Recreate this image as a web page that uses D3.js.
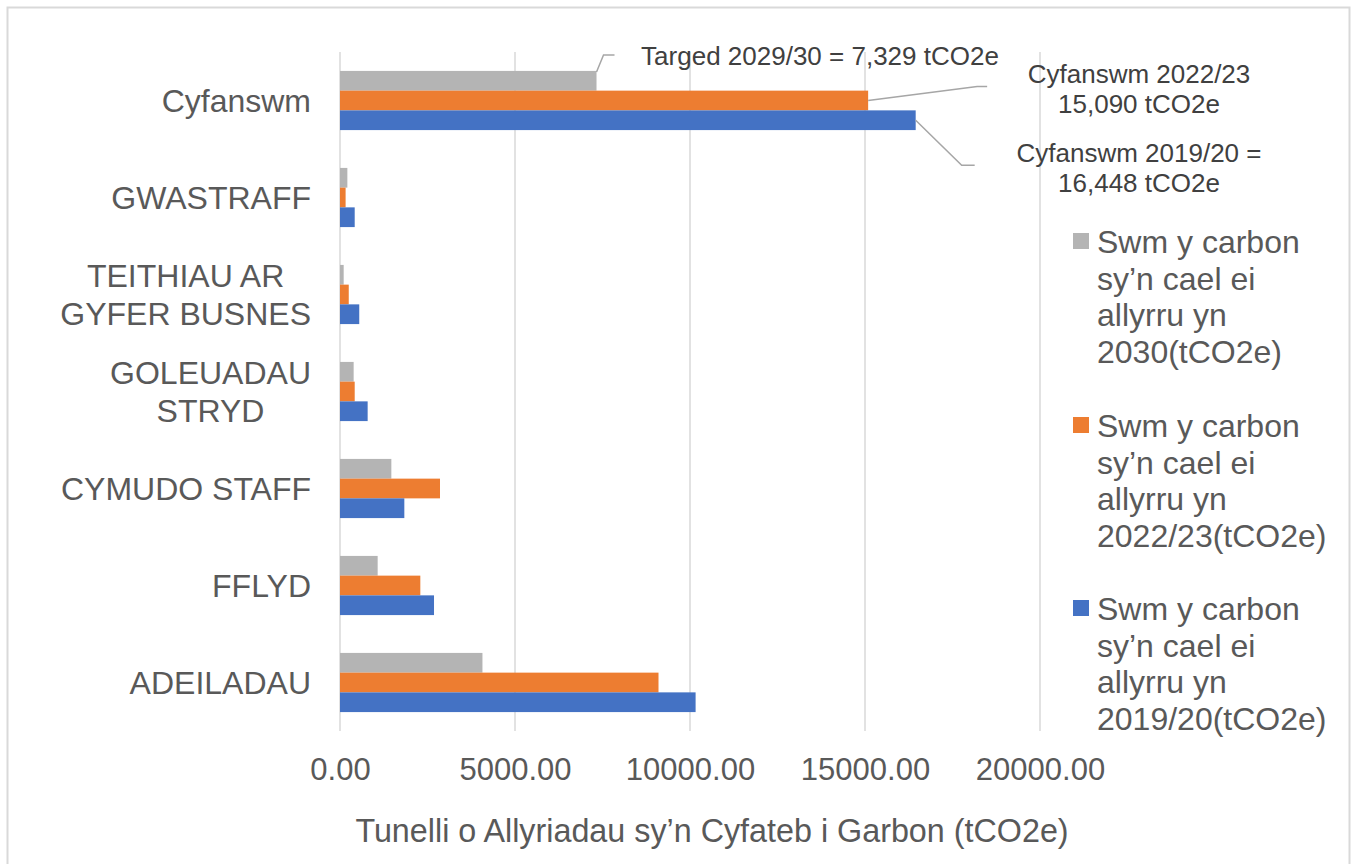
<!DOCTYPE html>
<html>
<head>
<meta charset="utf-8">
<script src="https://cdn.jsdelivr.net/npm/d3@7"></script>
<style>
  body { margin: 0; background: #fff; }
  text { font-family: "Liberation Sans", Arial, sans-serif; }
</style>
</head>
<body>
<div id="chart"></div>
<script>
// categories top to bottom
var categories = ["Cyfanswm", "GWASTRAFF", "TEITHIAU AR GYFER BUSNES", "GOLEUADAU STRYD", "CYMUDO STAFF", "FFLYD", "ADEILADAU"];
var categoryLines = [["Cyfanswm"], ["GWASTRAFF"], ["TEITHIAU AR", "GYFER BUSNES"], ["GOLEUADAU", "STRYD"], ["CYMUDO STAFF"], ["FFLYD"], ["ADEILADAU"]];

var series = ["2030", "2022/23", "2019/20"];
var seriesColours = ["#b4b4b4", "#ed7d31", "#4472c4"];
var legendLines = [
  ["Swm y carbon", "sy\u2019n cael ei", "allyrru yn", "2030(tCO2e)"],
  ["Swm y carbon", "sy\u2019n cael ei", "allyrru yn", "2022/23(tCO2e)"],
  ["Swm y carbon", "sy\u2019n cael ei", "allyrru yn", "2019/20(tCO2e)"]
];

var values2030 = [7329, 210, 105, 390, 1467, 1076, 4070];
var values2223 = [15090, 160, 250, 420, 2857, 2295, 9100];
var values1920 = [16448, 420, 550, 790, 1838, 2686, 10160];

var xTicks = [0, 5000, 10000, 15000, 20000];
var axisTitle = "Tunelli o Allyriadau sy\u2019n Cyfateb i Garbon (tCO2e)";

var annotations = [
  { series: 0, lines: ["Targed 2029/30 = 7,329 tCO2e"] },
  { series: 1, lines: ["Cyfanswm 2022/23", "15,090 tCO2e"] },
  { series: 2, lines: ["Cyfanswm 2019/20 =", "16,448 tCO2e"] }
];

var width = 1356, height = 864;
var svg = d3.select("#chart").append("svg")
    .attr("width", width)
    .attr("height", height);

svg.append("rect")
    .attr("x", 7.5).attr("y", 7.5)
    .attr("width", 1342).attr("height", 880)
    .attr("fill", "#fff")
    .attr("stroke", "#d9d9d9")
    .attr("stroke-width", 2);

var plot = { left: 340, right: 1040, top: 52, bottom: 731 };

var x = d3.scaleLinear().domain([0, 20000]).range([plot.left, plot.right]);
var y = d3.scaleBand().domain(categories).range([plot.top, plot.bottom])
    .paddingInner(0.39).paddingOuter(0.195);
var ySub = d3.scaleBand().domain(series).range([0, y.bandwidth()]);

// gridlines
svg.append("g").selectAll("line").data(xTicks).enter().append("line")
    .attr("x1", function(d) { return x(d); })
    .attr("x2", function(d) { return x(d); })
    .attr("y1", plot.top)
    .attr("y2", plot.bottom)
    .attr("stroke", "#d9d9d9")
    .attr("stroke-width", 1.5);

// tick labels via axis
var xAxis = svg.append("g")
    .attr("transform", "translate(0," + plot.bottom + ")")
    .call(d3.axisBottom(x).tickValues(xTicks).tickSize(0).tickPadding(0)
        .tickFormat(function(d) { return d3.format(".2f")(d); }));
xAxis.select(".domain").remove();
xAxis.selectAll("text")
    .attr("y", 49)
    .attr("dy", 0)
    .attr("fill", "#595959")
    .style("font-size", "31px")
    .style("font-family", "'Liberation Sans', Arial, sans-serif");

svg.append("text")
    .attr("x", 712)
    .attr("y", 842)
    .attr("text-anchor", "middle")
    .attr("fill", "#595959")
    .style("font-size", "32.3px")
    .text(axisTitle);

// bars
var allValues = [values2030, values2223, values1920];
series.forEach(function(s, si) {
  svg.append("g").selectAll("rect").data(allValues[si]).enter().append("rect")
      .attr("x", x(0))
      .attr("y", function(d, i) { return y(categories[i]) + ySub(s); })
      .attr("width", function(d) { return x(d) - x(0); })
      .attr("height", ySub.bandwidth())
      .attr("fill", seriesColours[si]);
});

// category labels
var labelRight = 311;
categories.forEach(function(c, i) {
  var lines = categoryLines[i];
  var cy = y(c) + y.bandwidth() / 2;
  var g = svg.append("g");
  var texts = [];
  lines.forEach(function(l, li) {
    texts.push(g.append("text")
      .attr("y", cy + (li - (lines.length - 1) / 2) * 38)
      .attr("dy", "0.36em")
      .attr("text-anchor", "middle")
      .attr("fill", "#595959")
      .style("font-size", "32px")
      .text(l));
  });
  var maxW = d3.max(texts, function(t) { return t.node().getComputedTextLength(); });
  texts.forEach(function(t) { t.attr("x", labelRight - maxW / 2); });
});

// annotations with leader lines
var c0 = categories[0];
var annoPos = [
  { tx: 820, ty: 65, path: [[0, 0], [7, -17], [18, -17]] },
  { tx: 1139, ty: 83, path: [[0, 0], [109, -14], [119, -14]] },
  { tx: 1139, ty: 162, path: [[0, 0], [46, 45], [59, 45]] }
];
annotations.forEach(function(a, ai) {
  var v = allValues[a.series][0];
  var bx = x(v);
  var by = y(c0) + ySub(series[a.series]) + (ai === 0 ? 1 : ySub.bandwidth() / 2);
  var p = annoPos[ai];
  svg.append("path")
      .attr("d", d3.line()(p.path.map(function(q) { return [bx + q[0], by + q[1]]; })))
      .attr("fill", "none")
      .attr("stroke", "#a6a6a6")
      .attr("stroke-width", 1.5);
  a.lines.forEach(function(l, li) {
    svg.append("text")
        .attr("x", p.tx)
        .attr("y", p.ty + li * 30)
        .attr("text-anchor", "middle")
        .attr("fill", "#404040")
        .style("font-size", "26px")
        .text(l);
  });
});

// legend
var legendTop = [253, 437, 620];
legendLines.forEach(function(lines, i) {
  var g = svg.append("g");
  g.append("rect")
      .attr("x", 1073)
      .attr("y", legendTop[i] - 20)
      .attr("width", 16)
      .attr("height", 16)
      .attr("fill", seriesColours[i]);
  lines.forEach(function(l, li) {
    g.append("text")
        .attr("x", 1097)
        .attr("y", legendTop[i] + li * 36.5)
        .attr("fill", "#595959")
        .style("font-size", "32px")
        .text(l);
  });
});
</script>
</body>
</html>
